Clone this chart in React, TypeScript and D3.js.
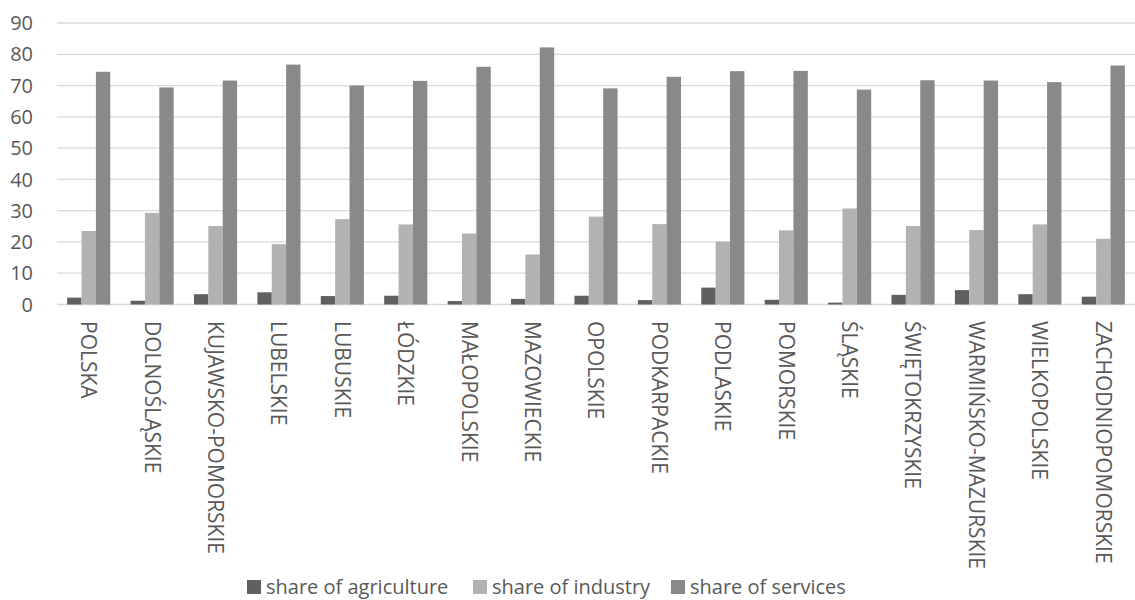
import React from "react";
import * as d3 from "d3";

const categories = ["POLSKA","DOLNOŚLĄSKIE","KUJAWSKO-POMORSKIE","LUBELSKIE","LUBUSKIE","ŁÓDZKIE","MAŁOPOLSKIE","MAZOWIECKIE","OPOLSKIE","PODKARPACKIE","PODLASKIE","POMORSKIE","ŚLĄSKIE","ŚWIĘTOKRZYSKIE","WARMIŃSKO-MAZURSKIE","WIELKOPOLSKIE","ZACHODNIOPOMORSKIE"];
const agriculture = [2.2,1.2,3.3,3.9,2.7,2.8,1.1,1.8,2.8,1.4,5.4,1.5,0.6,3.1,4.6,3.3,2.5];
const industry = [23.5,29.3,25.1,19.3,27.3,25.6,22.7,16.0,28.1,25.7,20.1,23.7,30.7,25.1,23.8,25.6,21.0];
const services = [74.4,69.4,71.6,76.7,70.0,71.5,76.0,82.2,69.1,72.8,74.6,74.7,68.7,71.7,71.6,71.1,76.4];
const seriesNames = ["share of agriculture","share of industry","share of services"];
const yTicks = [0,10,20,30,40,50,60,70,80,90];

const colors = ["#606060","#b2b2b2","#898989"];
const W = 1135, H = 600;
const left = 57, right = 1135, top = 23, bottom = 304.5;
const font = "'Open Sans', sans-serif";
const textColor = "#595959";

export default function App() {
  const x = d3.scaleBand<string>().domain(categories).range([left, right]).paddingInner(0.32).paddingOuter(0.16);
  const sub = d3.scaleBand<number>().domain([0,1,2]).range([0, x.bandwidth()]);
  const y = d3.scaleLinear().domain([0, 90]).range([bottom, top]);
  const data = [agriculture, industry, services];
  const legendX = [247, 473, 671];
  return (
    <svg width={W} height={H} style={{position:"absolute", left:0, top:0, background:"#fff"}} fontFamily={font}>
      {yTicks.map(t => (
        <g key={t}>
          <line x1={left} x2={right} y1={y(t)} y2={y(t)} stroke="#d9d9d9" strokeWidth={1.3} />
          <text x={33} y={y(t)} dy="0.36em" textAnchor="end" fontSize={20} fill={textColor}>{t}</text>
        </g>
      ))}
      {categories.map((c, i) => (
        <g key={c}>
          {data.map((s, k) => (
            <rect key={k} x={(x(c) as number) + (sub(k) as number)} y={y(s[i])} width={sub.bandwidth()} height={y(0) - y(s[i])} fill={colors[k]} />
          ))}
          <text transform={`translate(${(x(c) as number) + x.bandwidth()/2},321) rotate(90)`} dy="0.36em" fontSize={21} fill={textColor}>{c}</text>
        </g>
      ))}
      {seriesNames.map((n, k) => (
        <g key={n}>
          <rect x={legendX[k]} y={580} width={14} height={14} fill={colors[k]} />
          <text x={legendX[k] + 19} y={594} fontSize={20} fill={textColor}>{n}</text>
        </g>
      ))}
    </svg>
  );
}
